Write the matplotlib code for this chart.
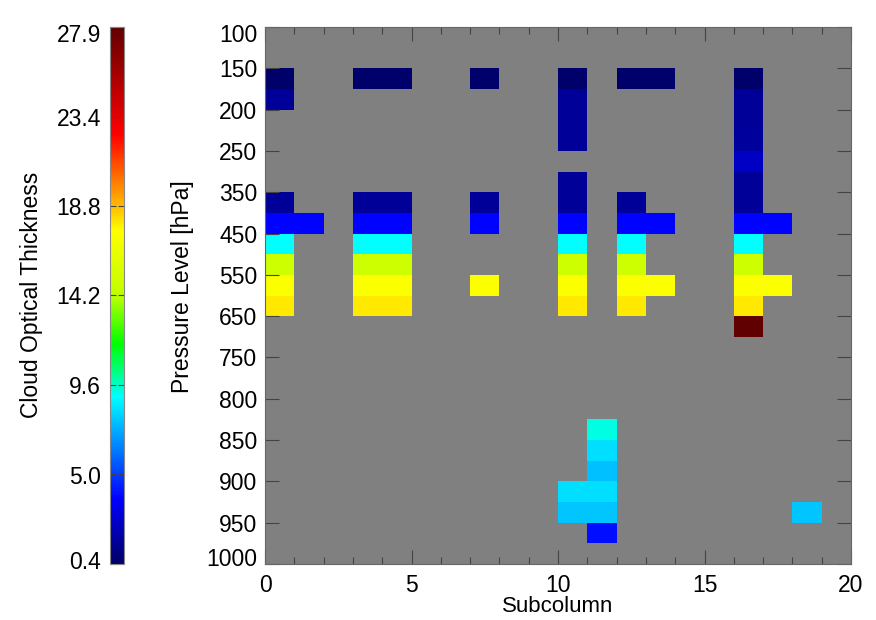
import numpy as np
import matplotlib
matplotlib.use("Agg")
import matplotlib.pyplot as plt
import matplotlib.transforms as mtrans
from matplotlib.colors import LinearSegmentedColormap

plt.rcParams['font.family'] = ['Liberation Sans', 'DejaVu Sans']

# levels (row index 0 = top) and their labels
n_sub = 20
n_lev = 26
lev_ticks = list(range(0, 27, 2))
lev_labels = ['100', '150', '200', '250', '350', '450', '550', '650',
              '750', '800', '850', '900', '950', '1000']

# cloud cells: subcolumn, level row, optical thickness
sub_idx = [0, 0, 0, 0, 0, 0, 0, 0,
           1,
           3, 3, 3, 3, 3, 3, 3,
           4, 4, 4, 4, 4, 4, 4,
           7, 7, 7, 7,
           10, 10, 10, 10, 10, 10, 10, 10, 10, 10, 10, 10, 10,
           11, 11, 11, 11, 11, 11,
           12, 12, 12, 12, 12, 12, 12,
           13, 13, 13,
           16, 16, 16, 16, 16, 16, 16, 16, 16, 16, 16, 16, 16,
           17, 17,
           18]
lev_idx = [2, 3, 8, 9, 10, 11, 12, 13,
           9,
           2, 8, 9, 10, 11, 12, 13,
           2, 8, 9, 10, 11, 12, 13,
           2, 8, 9, 12,
           2, 3, 4, 5, 7, 8, 9, 10, 11, 12, 13, 22, 23,
           19, 20, 21, 22, 23, 24,
           2, 8, 9, 10, 11, 12, 13,
           2, 9, 12,
           2, 3, 4, 5, 6, 7, 8, 9, 10, 11, 12, 13, 14,
           9, 12,
           23]
cot = [0.6, 1.5, 1.5, 3.8, 8.9, 14.8, 17.2, 17.9,
       3.8,
       0.6, 1.5, 3.8, 8.9, 14.8, 17.2, 17.9,
       0.6, 1.5, 3.8, 8.9, 14.8, 17.2, 17.9,
       0.6, 1.5, 3.8, 17.2,
       0.6, 1.5, 1.5, 1.5, 1.5, 1.5, 3.8, 8.9, 14.8, 17.2, 17.9, 8.3, 7.8,
       9.3, 8.3, 7.6, 8.3, 7.8, 4.0,
       0.6, 1.5, 3.8, 8.9, 14.8, 17.2, 17.9,
       0.6, 3.8, 17.2,
       0.6, 1.5, 1.5, 1.6, 2.5, 1.5, 1.5, 3.8, 8.9, 14.8, 17.2, 17.9, 27.9,
       3.8, 17.2,
       7.8]

cb_ticks_lbl = ['0.4', '5.0', '9.6', '14.2', '18.8', '23.4', '27.9']
vmin, vmax = 0.4, 27.9

grid = np.full((n_lev, n_sub), np.nan)
for s, l, v in zip(sub_idx, lev_idx, cot):
    grid[l, s] = v
grid = np.ma.masked_invalid(grid)

cmap = LinearSegmentedColormap.from_list('idl', [
    (0.00, (0.0, 0.0, 0.40)),
    (0.12, (0.0, 0.0, 1.0)),
    (0.31, (0.0, 1.0, 1.0)),
    (0.41, (0.0, 1.0, 0.0)),
    (0.50, (0.75, 1.0, 0.0)),
    (0.62, (1.0, 1.0, 0.0)),
    (0.80, (1.0, 0.0, 0.0)),
    (1.00, (0.38, 0.0, 0.0))])

fs = 16.5

fig = plt.figure(figsize=(8.76, 6.2), dpi=100)
ax = fig.add_axes([265/876, 1-564/620, 586/876, 537/620])
cax = fig.add_axes([110/876, 1-564/620, 14/876, 537/620])


def shift(lab, dy_px):
    # nudge an end label inside the axis range
    lab.set_transform(lab.get_transform() +
                      mtrans.ScaledTranslation(0, dy_px/100, fig.dpi_scale_trans))


ax.set_facecolor('#808080')
mesh = ax.pcolormesh(np.arange(n_sub+1), np.arange(n_lev+1), grid,
                     cmap=cmap, vmin=vmin, vmax=vmax, linewidth=0)
ax.set_xlim(0, n_sub)
ax.set_ylim(n_lev, 0)
ax.set_xticks([0, 5, 10, 15, 20])
ax.set_xticks(np.arange(0, 21), minor=True)
ax.set_yticks(lev_ticks)
ax.set_yticklabels(lev_labels)
ax.tick_params(axis='both', which='major', direction='in', length=10,
               width=0.8, color='#444444', labelsize=fs,
               top=True, right=True)
ax.tick_params(axis='x', which='major', pad=7)
ax.tick_params(axis='y', which='major', pad=5.5)
ax.tick_params(axis='x', which='minor', direction='in', length=5,
               width=0.8, color='#444444', top=True)
ylabs = ax.get_yticklabels()
shift(ylabs[0], -6)
shift(ylabs[-1], 7)
for sp in ax.spines.values():
    sp.set_color('#666666')

cb = fig.colorbar(mesh, cax=cax)
cb.set_ticks(np.linspace(vmin, vmax, 7))
cb.set_ticklabels(cb_ticks_lbl)
cax.yaxis.set_ticks_position('both')
cax.tick_params(direction='in', length=4, width=0.8, color='#444444',
                labelsize=fs, left=True, right=True,
                labelleft=True, labelright=False, pad=6.5)
clabs = cax.get_yticklabels()
shift(clabs[0], 4)
shift(clabs[-1], -6)
cb.outline.set_edgecolor('#888888')

fig.text(558/876, 1-607/620, 'Subcolumn', ha='center', va='center', fontsize=16)
fig.text(182/876, 1-287/620, 'Pressure Level [hPa]', ha='center', va='center',
         rotation=90, fontsize=fs)
fig.text(32/876, 1-295/620, 'Cloud Optical Thickness', ha='center', va='center',
         rotation=90, fontsize=fs)

fig.savefig('out.png', dpi=100)
